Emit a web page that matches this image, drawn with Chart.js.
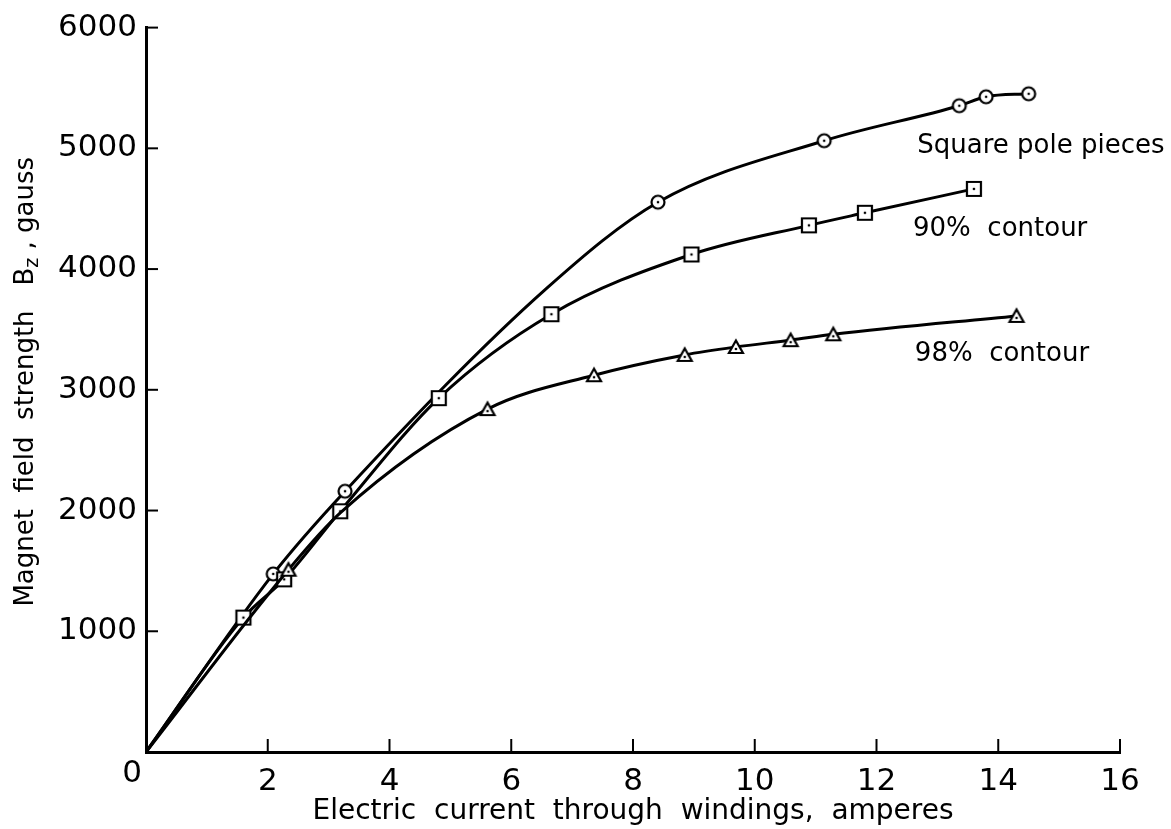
<!DOCTYPE html>
<html>
<head>
<meta charset="utf-8">
<script src="https://cdn.jsdelivr.net/npm/chart.js@4.4.0/dist/chart.umd.min.js"></script>
<style>
  html, body { margin: 0; padding: 0; background: #fff; }
  #wrap { width: 1171px; height: 829px; }
</style>
</head>
<body>
<div id="wrap"><canvas id="magnetChart" width="1171" height="829"></canvas></div>
<script>
// Readings taken off the plot (amperes, gauss)
const squareX = [0, 2.09, 3.27, 6.58, 8.41, 11.14, 13.36, 13.80, 14.50];
const squareY = [0, 1475, 2160, 3840, 4554, 5063, 5353, 5427, 5452];
const squareHidden = [3];

const c90X = [0, 1.60, 2.27, 3.19, 4.81, 6.66, 8.96, 10.89, 11.81, 13.60];
const c90Y = [0, 1113, 1430, 1994, 2931, 3626, 4121, 4362, 4466, 4664];
const c90Hidden = [];

const c98X = [0, 2.34, 3.20, 5.61, 7.36, 8.85, 9.69, 10.59, 11.29, 14.30];
const c98Y = [0, 1510, 1985, 2840, 3121, 3289, 3355, 3411, 3460, 3612];
const c98Hidden = [2];

const xTicks = [0, 2, 4, 6, 8, 10, 12, 14, 16];
const yTicks = [0, 1000, 2000, 3000, 4000, 5000, 6000];

const seriesNames = ['Square pole pieces', '90% contour', '98% contour'];

const FONT = "'DejaVu Sans', sans-serif";

function pairs(xs, ys) {
    return xs.map((x, i) => ({ x: x, y: ys[i] }));
}

// little marker images with a dot in the middle, like the original
function makeMarker(shape) {
    const c = document.createElement('canvas');
    c.width = 20; c.height = 20;
    const g = c.getContext('2d');
    g.fillStyle = '#fff';
    g.strokeStyle = '#000';
    g.lineWidth = 2.2;
    g.beginPath();
    if (shape === 'circle') {
        g.arc(10, 10, 6.5, 0, Math.PI * 2);
    } else if (shape === 'square') {
        g.rect(3, 3, 14, 14);
    } else {
        g.moveTo(10, 3.5);
        g.lineTo(17, 16);
        g.lineTo(3, 16);
        g.closePath();
    }
    g.fill();
    g.stroke();
    g.fillStyle = '#000';
    g.beginPath();
    g.arc(10, shape === 'triangle' ? 12 : 10, 1.3, 0, Math.PI * 2);
    g.fill();
    return c;
}

const circleImg = makeMarker('circle');
const squareImg = makeMarker('square');
const triImg = makeMarker('triangle');

// no marker at the origin or on the curve-only readings
function radii(n, hidden) {
    return Array.from({ length: n }, (_, i) => (i === 0 || hidden.includes(i) ? 0 : 10));
}

function lineSet(label, data, img, hidden) {
    return {
        label: label,
        data: data,
        showLine: true,
        borderColor: '#000',
        borderWidth: 3,
        backgroundColor: '#fff',
        cubicInterpolationMode: 'monotone',
        pointStyle: img,
        pointRadius: radii(data.length, hidden),
        pointHoverRadius: 0,
        fill: false
    };
}

// inward tick marks, text labels next to the curves, y title with subscript
const extras = {
    id: 'extras',
    afterDraw(chart) {
        const ctx = chart.ctx;
        const xs = chart.scales.x;
        const ys = chart.scales.y;
        const x0 = xs.getPixelForValue(0);
        const y0 = ys.getPixelForValue(0);
        ctx.save();
        ctx.strokeStyle = '#000';
        ctx.lineWidth = 2;
        xTicks.forEach(v => {
            if (v === 0) return;
            const px = xs.getPixelForValue(v);
            ctx.beginPath();
            ctx.moveTo(px, y0);
            ctx.lineTo(px, y0 - 13);
            ctx.stroke();
        });
        yTicks.forEach(v => {
            if (v === 0) return;
            const py = ys.getPixelForValue(v);
            ctx.beginPath();
            ctx.moveTo(x0, py);
            ctx.lineTo(x0 + 12, py);
            ctx.stroke();
        });

        ctx.fillStyle = '#000';
        ctx.textBaseline = 'middle';

        // shared origin label
        ctx.font = '31px ' + FONT;
        ctx.textAlign = 'center';
        ctx.fillText('0', x0 - 14, y0 + 22);

        // series labels
        ctx.font = '26px ' + FONT;
        ctx.textAlign = 'left';
        const spots = [[12.67, 5017], [12.6, 4331], [12.63, 3298]];
        seriesNames.forEach((name, i) => {
            const txt = i === 0 ? name : name.replace(' ', '  ');
            ctx.fillText(txt, xs.getPixelForValue(spots[i][0]), ys.getPixelForValue(spots[i][1]));
        });

        // y axis title, rotated, with the z subscript
        ctx.translate(26, (ys.top + ys.bottom) / 2 - 8);
        ctx.rotate(-Math.PI / 2);
        const big = '26px ' + FONT;
        const small = '19px ' + FONT;
        const parts = [
            { t: 'Magnet  field  strength   B', f: big, dy: 0 },
            { t: 'z', f: small, dy: 7 },
            { t: ' , gauss', f: big, dy: 0 }
        ];
        let total = 0;
        parts.forEach(p => { ctx.font = p.f; total += ctx.measureText(p.t).width; });
        let cx = -total / 2;
        parts.forEach(p => {
            ctx.font = p.f;
            ctx.fillText(p.t, cx, p.dy);
            cx += ctx.measureText(p.t).width;
        });
        ctx.restore();
    }
};

const ctx = document.getElementById('magnetChart').getContext('2d');
new Chart(ctx, {
    type: 'scatter',
    data: {
        datasets: [
            lineSet(seriesNames[2], pairs(c98X, c98Y), triImg, c98Hidden),
            lineSet(seriesNames[1], pairs(c90X, c90Y), squareImg, c90Hidden),
            lineSet(seriesNames[0], pairs(squareX, squareY), circleImg, squareHidden)
        ]
    },
    options: {
        responsive: false,
        animation: false,
        events: [],
        layout: { padding: { left: 0, right: 51, top: 26, bottom: 0 } },
        plugins: {
            legend: { display: false },
            tooltip: { enabled: false }
        },
        scales: {
            x: {
                type: 'linear',
                min: 0,
                max: 16,
                afterBuildTicks: s => { s.ticks = xTicks.map(v => ({ value: v })); },
                afterFit: s => { s.height = 77; },
                grid: { display: false, drawTicks: false },
                border: { display: true, color: '#000', width: 3 },
                ticks: {
                    color: '#000',
                    padding: 11,
                    font: { family: FONT, size: 31 },
                    maxRotation: 0,
                    callback: v => (v === 0 ? '' : String(v))
                },
                title: {
                    display: true,
                    text: 'Electric  current  through  windings,  amperes',
                    color: '#000',
                    font: { family: FONT, size: 28 },
                    padding: { top: 0, bottom: 0 }
                }
            },
            y: {
                type: 'linear',
                min: 0,
                max: 6000,
                afterBuildTicks: s => { s.ticks = yTicks.map(v => ({ value: v })); },
                afterFit: s => { s.width = 146; },
                grid: { display: false, drawTicks: false },
                border: { display: true, color: '#000', width: 3 },
                ticks: {
                    color: '#000',
                    padding: 9,
                    font: { family: FONT, size: 31 },
                    callback: v => (v === 0 ? '' : String(v))
                }
            }
        }
    },
    plugins: [extras]
});
</script>
</body>
</html>
